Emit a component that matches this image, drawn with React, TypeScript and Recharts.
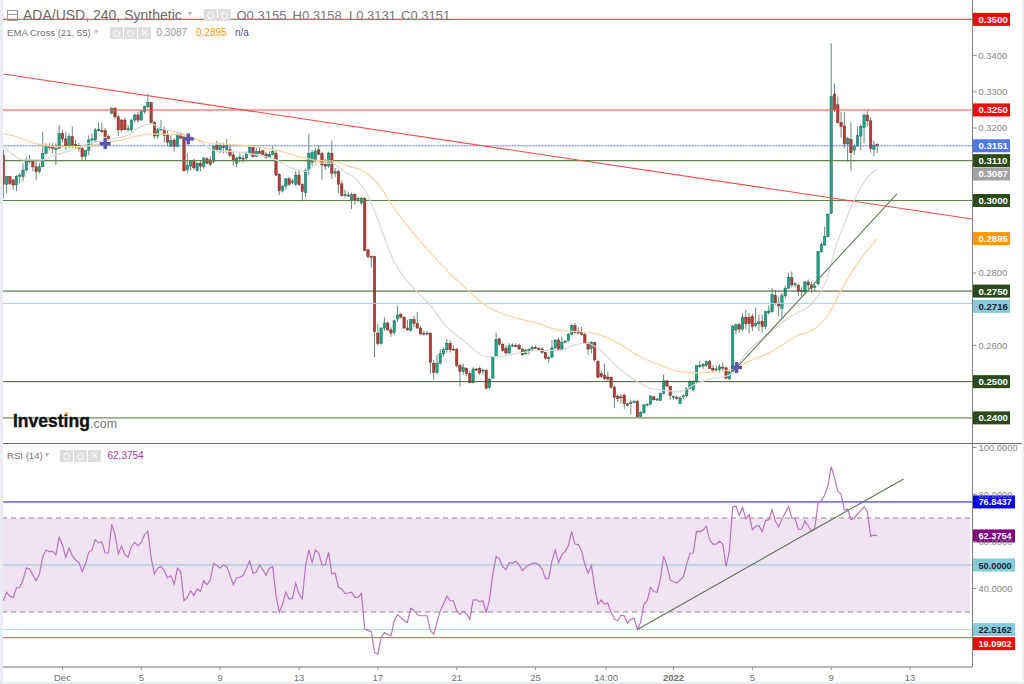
import React from "react";
import { ComposedChart, Bar, Line, XAxis, YAxis, ReferenceLine, ReferenceArea, ReferenceDot } from "recharts";

// [open, high, low, close]
const candlesEarlyDec = [
[.3126,.3140,.3006,.3045],[.3045,.3066,.3020,.3066],[.3066,.3066,.3043,.3047],[.3057,.3060,.3030,.3043],[.3043,.3070,.3025,.3066],
[.3066,.3075,.3047,.3070],[.3066,.3103,.3053,.3084],[.3084,.3121,.3080,.3112],[.3112,.3126,.3103,.3108],[.3108,.3112,.3080,.3093],
[.3093,.3112,.3057,.3080],[.3080,.3103,.3075,.3093],[.3093,.3190,.3093,.3130],[.3130,.3158,.3126,.3149],[.3149,.3158,.3139,.3146],
[.3149,.3158,.3130,.3144],[.3144,.3158,.3098,.3144],[.3144,.3208,.3144,.3185],[.3185,.3195,.3160,.3170],[.3170,.3190,.3139,.3149],
[.3149,.3185,.3144,.3176],[.3176,.3204,.3144,.3153],[.3155,.3167,.3144,.3149],[.3151,.3160,.3135,.3144],[.3144,.3150,.3112,.3121],
[.3122,.3139,.3112,.3139],[.3139,.3180,.3125,.3167],[.3167,.3185,.3149,.3170],[.3167,.3200,.3160,.3195],[.3193,.3215,.3190,.3197],
[.3193,.3215,.3185,.3190],[.3193,.3200,.3149,.3176],[.3176,.3182,.3165,.3170],[.3241,.3257,.3238,.3255],[.3255,.3257,.3225,.3231],
[.3231,.3235,.3178,.3195],[.3222,.3225,.3190,.3195],[.3222,.3230,.3195,.3195],[.3195,.3208,.3190,.3198],[.3195,.3225,.3190,.3222],
[.3222,.3240,.3215,.3236],[.3236,.3245,.3215,.3222],[.3222,.3250,.3220,.3245],[.3245,.3262,.3240,.3259],[.3259,.3295,.3255,.3270],
[.3270,.3270,.3213,.3215],[.3215,.3220,.3170,.3178],[.3178,.3200,.3170,.3195],[.3195,.3222,.3190,.3200],[.3195,.3205,.3160,.3180],
[.3180,.3195,.3150,.3160],[.3150,.3180,.3148,.3165],[.3167,.3172,.3135,.3149],[.3149,.3190,.3149,.3183],[.3183,.3190,.3170,.3172],
[.3176,.3180,.3080,.3082],[.3085,.3130,.3075,.3097],[.3095,.3110,.3082,.3107],[.3110,.3115,.3085,.3090],[.3083,.3105,.3080,.3103],
[.3103,.3110,.3080,.3095],[.3094,.3120,.3088,.3117],[.3115,.3120,.3100,.3103],[.3112,.3122,.3095,.3100],[.3108,.3152,.3103,.3150],
[.3153,.3165,.3135,.3140],[.3138,.3160,.3130,.3153],[.3150,.3160,.3130,.3146],[.3140,.3170,.3130,.3152],[.3140,.3155,.3120,.3125],
[.3126,.3135,.3095,.3112],[.3103,.3120,.3092,.3117],[.3115,.3130,.3105,.3120],[.3117,.3125,.3105,.3115],[.3117,.3135,.3110,.3130],
[.3130,.3150,.3125,.3147],[.3147,.3152,.3118,.3122],[.3122,.3145,.3120,.3135],[.3135,.3145,.3130,.3130],[.3137,.3141,.3125,.3127],
[.3128,.3135,.3115,.3118],[.3118,.3135,.3116,.3127],[.3127,.3150,.3125,.3135],[.3130,.3137,.3068,.3070],[.3072,.3075,.3015,.3027],
[.3027,.3042,.3022,.3040],[.3040,.3062,.3030,.3060],[.3060,.3065,.3040,.3045],[.3050,.3060,.3045,.3054],[.3045,.3080,.3040,.3070],
[.3070,.3085,.3040,.3044],[.3044,.3048,.2998,.3025],[.3022,.3088,.3010,.3082],[.3085,.3184,.3070,.3130],[.3105,.3140,.3095,.3132],
[.3112,.3145,.3105,.3137],[.3140,.3153,.3125,.3128],[.3130,.3135,.3057,.3098],[.3100,.3115,.3085,.3095],[.3095,.3135,.3090,.3131],
[.3130,.3165,.3060,.3075],[.3075,.3090,.3065,.3080],[.3080,.3085,.3020,.3045],
];
const candlesLateDec = [
[.3046,.3055,.3010,.3014],[.3014,.3030,.3008,.3017],[.3015,.3025,.3010,.3013],[.3002,.3022,.2976,.3016],[.3016,.3020,.2988,.3002],
[.3004,.3010,.2995,.3006],[.2993,.3010,.2988,.3006],[.3006,.3010,.2860,.2862],[.2864,.2866,.2840,.2845],[.2845,.2848,.2815,.2843],
[.2845,.2848,.2567,.2638],[.2634,.2660,.2600,.2605],[.2606,.2650,.2602,.2648],[.2648,.2678,.2640,.2662],[.2662,.2666,.2640,.2643],
[.2643,.2650,.2624,.2634],[.2636,.2672,.2630,.2668],[.2673,.2710,.2665,.2684],[.2686,.2690,.2675,.2678],[.2678,.2680,.2645,.2648],
[.2648,.2670,.2640,.2643],[.2642,.2672,.2638,.2672],[.2672,.2682,.2650,.2661],[.2661,.2693,.2645,.2648],[.2648,.2655,.2628,.2632],
[.2634,.2640,.2627,.2634],[.2634,.2640,.2628,.2632],[.2634,.2636,.2522,.2553],[.2551,.2560,.2505,.2525],[.2525,.2575,.2520,.2551],
[.2551,.2590,.2548,.2577],[.2577,.2595,.2570,.2588],[.2588,.2617,.2580,.2606],[.2606,.2615,.2580,.2588],[.2590,.2600,.2585,.2588],
[.2590,.2592,.2540,.2544],[.2544,.2550,.2486,.2528],[.2528,.2550,.2520,.2540],[.2537,.2540,.2515,.2522],[.2522,.2530,.2495,.2497],
[.2498,.2540,.2495,.2535],[.2535,.2538,.2530,.2532],[.2537,.2542,.2518,.2524],[.2530,.2536,.2520,.2532],[.2531,.2535,.2480,.2482],
[.2484,.2510,.2480,.2507],[.2510,.2570,.2508,.2568],[.2570,.2635,.2568,.2617],[.2618,.2620,.2600,.2603],[.2603,.2608,.2582,.2586],
[.2592,.2600,.2575,.2579],[.2579,.2606,.2578,.2599],[.2599,.2606,.2595,.2601],[.2600,.2606,.2595,.2598],[.2601,.2605,.2588,.2590],
[.2590,.2592,.2572,.2574],[.2577,.2590,.2574,.2586],[.2586,.2590,.2575,.2590],[.2590,.2600,.2585,.2595],[.2595,.2600,.2590,.2593],
[.2592,.2597,.2585,.2591],[.2590,.2595,.2577,.2581],[.2581,.2583,.2560,.2565],[.2565,.2570,.2552,.2566],[.2568,.2615,.2565,.2593],
[.2593,.2618,.2590,.2615],[.2615,.2622,.2585,.2590],[.2590,.2625,.2588,.2609],[.2610,.2615,.2605,.2612],[.2613,.2635,.2610,.2630],
[.2630,.2660,.2628,.2655],[.2655,.2662,.2632,.2636],[.2638,.2650,.2632,.2634],[.2636,.2652,.2628,.2630],[.2630,.2635,.2604,.2606],
[.2606,.2610,.2574,.2590],[.2592,.2612,.2578,.2608],[.2608,.2610,.2555,.2560],[.2556,.2560,.2510,.2512],[.2522,.2530,.2510,.2514],
[.2518,.2550,.2505,.2508],[.2513,.2528,.2503,.2507],[.2512,.2515,.2480,.2485],[.2485,.2490,.2427,.2457],[.2460,.2465,.2445,.2453],
[.2458,.2465,.2440,.2457],[.2463,.2467,.2425,.2439],[.2439,.2441,.2432,.2435],[.2440,.2450,.2410,.2442],[.2443,.2450,.2440,.2445],
[.2446,.2450,.2402,.2403],[.2404,.2420,.2401,.2415],[.2415,.2438,.2412,.2436],[.2436,.2440,.2432,.2438],[.2438,.2462,.2435,.2461],
[.2458,.2462,.2448,.2450],[.2450,.2455,.2447,.2452],[.2448,.2470,.2446,.2468],[.2468,.2520,.2465,.2502],[.2502,.2505,.2485,.2488],
[.2487,.2490,.2450,.2462],[.2458,.2462,.2450,.2459],[.2457,.2462,.2450,.2454],
];
const candlesJan = [
[.2440,.2460,.2438,.2455],[.2458,.2465,.2452,.2461],[.2461,.2485,.2455,.2482],[.2482,.2505,.2478,.2499],[.2478,.2505,.2473,.2500],
[.2500,.2546,.2497,.2544],[.2542,.2558,.2538,.2545],[.2543,.2552,.2535,.2548],[.2545,.2558,.2540,.2555],[.2555,.2560,.2535,.2537],
[.2537,.2545,.2525,.2532],[.2533,.2545,.2528,.2535],[.2533,.2548,.2525,.2541],[.2540,.2553,.2530,.2538],[.2538,.2542,.2505,.2510],
[.2508,.2530,.2505,.2527],[.2527,.2656,.2525,.2653],[.2643,.2660,.2630,.2657],[.2657,.2662,.2635,.2645],[.2645,.2690,.2640,.2678],
[.2678,.2698,.2645,.2660],[.2678,.2690,.2633,.2660],[.2680,.2688,.2640,.2652],[.2655,.2705,.2650,.2660],[.2660,.2685,.2640,.2665],
[.2667,.2685,.2635,.2652],[.2652,.2695,.2645,.2693],[.2690,.2710,.2685,.2695],[.2693,.2758,.2690,.2740],[.2738,.2752,.2712,.2715],
[.2715,.2735,.2680,.2709],[.2702,.2745,.2675,.2737],[.2737,.2765,.2730,.2758],[.2758,.2800,.2755,.2788],[.2787,.2804,.2760,.2767],
[.2767,.2775,.2760,.2770],[.2766,.2770,.2736,.2750],[.2750,.2760,.2735,.2752],[.2748,.2778,.2740,.2775],[.2775,.2782,.2755,.2767],
[.2767,.2775,.2745,.2758],[.2760,.2770,.2750,.2764],[.2770,.2860,.2765,.2859],[.2859,.2885,.2855,.2879],[.2877,.2928,.2875,.2900],
[.2900,.2965,.2898,.2962],[.2965,.3434,.2962,.3288],[.3294,.3323,.3245,.3250],[.3264,.3287,.3213,.3215],[.3215,.3245,.3174,.3204],
[.3206,.3245,.3144,.3156],[.3156,.3175,.3107,.3172],[.3169,.3216,.3081,.3132],[.3139,.3155,.3126,.3150],[.3150,.3204,.3148,.3179],
[.3178,.3210,.3139,.3204],[.3202,.3240,.3158,.3236],[.3236,.3248,.3206,.3220],[.3220,.3230,.3132,.3144],[.3141,.3165,.3123,.3153],
[.3155,.3158,.3131,.3151],
];

// [bar index, value] pairs
const ema21Points = [
[0,.3149],[3,.3126],[6,.3112],[12,.3112],[16,.3126],[21,.3139],[26,.3158],[31,.3167],[38,.3181],[42,.3204],[45,.3211],[48,.3199],[52,.3190],[56,.3181],[60,.3162],[64,.3139],[70,.3135],[76,.3128],[83,.3112],[88,.3089],[92,.3080],[96,.3103],[100,.3103],[104,.3079],
[107.6,.3057],[110.6,.3020],[113.6,.2956],[118.7,.2836],[125.8,.2749],[129.9,.2712],[134,.2661],[141,.2606],[147,.2569],[150,.2569],[157,.2579],[163,.2586],[169.5,.2586],[173.5,.2601],[177.6,.2606],[181.6,.2588],[186.7,.2542],[193,.2500],[198,.2479],[206,.2473],
[211,.2495],[216,.2509],[221,.2518],[226,.2578],[233,.2633],[239.5,.2679],[246.6,.2721],[250.6,.2781],[253.7,.2882],[255.7,.2928],[257.7,.2974],[262.8,.3061],[266,.3087],
];
const ema55Points = [
[0,.3185],[4,.3176],[8,.3162],[12,.3153],[16,.3149],[24,.3149],[28,.3154],[31,.3160],[36,.3167],[40,.3176],[44,.3183],[52,.3183],[56,.3176],[60,.3165],[64,.3157],[68,.3156],[72,.3153],[76,.3149],[80,.3144],[84,.3137],[88,.3126],[92,.3117],[96,.3110],[100,.3109],[105,.3095],[110,.3079],[113,.3057],
[120,.2965],[130.5,.2850],[142,.2747],[147,.2709],[153,.2684],[163.4,.2659],[168.6,.2643],[179.5,.2634],[187,.2607],[194,.2568],[199,.2549],[206,.2527],[211,.2524],[216,.2527],[222,.2535],[226.4,.2554],[233,.2579],[241.6,.2626],[247.7,.2651],[251,.2684],[254.7,.2747],[258.6,.2808],[266,.2895],
];

const rsiDec = [
34.8,38.4,36.7,36.2,40.2,40.5,43.6,48.7,48.3,45.7,43.3,46.2,53.5,56.4,55.7,55.8,54.4,61.8,58.5,53.3,
57.2,54,52.1,51.1,47.2,50.4,55.4,56.4,60.8,59.4,59.9,55.1,55.1,67.4,62.8,54.7,58.1,54.4,53.3,57.9,
59.6,58.1,59.6,62.9,64.3,53,46.2,48.6,49.4,47.6,44.5,45.5,41.9,48.6,47.2,34.8,36.2,39.1,37,39.8,
38.8,43.3,41.6,43.6,50.7,49.7,48.7,50,49.3,45.7,41.6,44.5,44.8,45.5,48.6,51.8,46.5,46.9,50,47.9,
45.7,48.6,49.4,37,29.9,33.4,38.4,35.5,35.8,42.2,37.7,35.5,49.7,56.4,51.1,56.4,55.1,50,50,55.4,46.2,46.6,40.5,
];
const rsiLateDec = [
39.8,37.9,38.1,38.4,36.2,36.2,37.9,22.8,22.1,21.6,12.8,12.1,19.2,21.3,20.4,19.9,26.3,28.9,27.7,26.3,
25.6,31.6,30.6,28.9,28.4,28.4,28.4,22.1,20.6,25.6,30.6,33.4,36.8,34.8,34.8,30.6,28.9,30.3,29.1,27,
35.1,35.2,34.4,34.8,29.6,35.5,46.2,53.7,52.6,49.3,48,51.1,50.7,51.6,50.1,47.6,49,50.1,50.7,50.9,
50,48.3,44.2,44.2,51.8,56.4,50.9,54.4,55.7,58.2,64.3,58.9,58.7,56.1,50.4,46.5,49.7,40.5,33.4,35.1,
33.4,33.8,29.9,27,26.3,28.7,28.4,25.3,27,27.4,22.6,25.6,33.4,34.8,40.5,38.7,38.4,44,53.8,49.7,43.6,42.9,42.3,
];
const rsiJan = [
43.6,45,50.4,55,55.1,64.3,64.2,64.9,66.5,60.6,58.9,58.9,60.1,58.9,49.3,56.1,74.8,75,71,74.5,
69.6,71.4,65,66.5,66.7,64.2,68.9,69.3,73.5,68.6,66.3,69.6,72.1,74.8,70,69.9,65.2,65.3,68.6,66.7,
64.3,65.7,76.4,77.4,79.8,83.8,91.8,87.3,81.3,80.2,73.4,73.8,69.3,69.9,71.7,73.1,74.8,72.8,62.2,62.8,62.3754,
];

const dateTickBars = [18, 42, 66, 90, 114, 138, 162, 183.5, 204, 228, 252, 276];
const dateTickLabels = ["Dec", "5", "9", "13", "17", "21", "25", "14:00", "2022", "5", "9", "13"];
const priceTicks = [0.34, 0.33, 0.32, 0.28, 0.26];
const rsiTicks = [100, 80, 60, 40];

const ohlc = [...candlesEarlyDec, ...candlesLateDec, ...candlesJan];
const candleRows = ohlc.map(([o, h, l, c], i) => ({ i, o, h, l, c, range: [l, h] }));
const rsiValues = [...rsiDec, ...rsiLateDec, ...rsiJan];
const rsiRows = rsiValues.map((v, i) => ({ i, v }));
const ema21Rows = ema21Points.map(([i, v]) => ({ i, v }));
const ema55Rows = ema55Points.map(([i, v]) => ({ i, v }));

const FONT = '"Liberation Sans", Arial, sans-serif';
const X_DOMAIN: [number, number] = [-0.4, 295];

const Candle = (p: any) => {
  const { x, y, width, height, payload: d } = p;
  const h = Math.abs(height);
  const k = h / (d.h - d.l || 1);
  const cx = x + width / 2;
  const yo = y + (d.h - d.o) * k;
  const yc = y + (d.h - d.c) * k;
  const up = d.c >= d.o;
  const top = Math.min(yo, yc);
  const bh = Math.max(Math.abs(yo - yc), 1);
  return (
    <g>
      <line x1={cx} x2={cx} y1={y} y2={y + h} stroke="#668a72" strokeWidth={1} />
      <rect x={cx - 1.2} y={top} width={2.4} height={bh}
        fill={up ? "#14a892" : "#b93a30"} stroke={up ? "#2a6048" : "#70302a"} strokeWidth={0.5} />
    </g>
  );
};

const tag = (text: string, bg: string, fg: string, w: number, size: number, dy = 0) => (p: any) => {
  const vb = p.viewBox || {};
  const x0 = (vb.x || 0) + (vb.width || 0);
  const y0 = (vb.y || 0) + dy;
  return (
    <g>
      <rect x={x0} y={y0 - 6.5} width={w} height={13} fill={bg} />
      <text x={x0 + 6} y={y0 + 3.5} fontSize={size} fontWeight="bold" fontFamily={FONT} fill={fg}>{text}</text>
    </g>
  );
};

const Plus = (p: any) => (
  <g fill="#5a55aa">
    <rect x={p.cx - 5.5} y={p.cy - 1.7} width={11} height={3.4} />
    <rect x={p.cx - 1.7} y={p.cy - 5.5} width={3.4} height={11} />
  </g>
);

const DateTick = (p: any) => {
  const { x, y, payload } = p;
  const label = dateTickLabels[dateTickBars.indexOf(payload.value)];
  return (
    <text x={x} y={y + 9} textAnchor="middle" fontSize={9.5} fontFamily={FONT}
      fontWeight={label === "2022" ? "bold" : "normal"} fill="#707070">{label}</text>
  );
};

const IconBox = ({ x, y, kind }: { x: number; y: number; kind: string }) => (
  <div style={{ position: "absolute", left: x, top: y, width: 13, height: 12, background: "#dedede", textAlign: "center", color: "#fff" }}>
    {kind === "x" ? (
      <span style={{ fontSize: 13, lineHeight: "12px", fontFamily: FONT, display: "block" }}>×</span>
    ) : (
      <div style={{ position: "absolute", left: 3, top: 2.5, width: 5, height: 5, border: "1.2px solid #fff", borderRadius: "50%" }} />
    )}
  </div>
);

const T = ({ x, y, size, color, children, weight, stroke }: any) => (
  <div style={{ position: "absolute", left: x, top: y, fontSize: size, color, fontFamily: FONT, fontWeight: weight || "normal", whiteSpace: "nowrap", lineHeight: 1, WebkitTextStroke: stroke }}>{children}</div>
);

export default function App() {
  return (
    <div style={{ position: "absolute", left: 0, top: 0, width: 1024, height: 684, overflow: "hidden", background: "#fff" }}>
      <div style={{ position: "absolute", left: 0, top: 0 }}>
        <ComposedChart width={1024} height={443} data={candleRows} margin={{ top: 0, right: 0, bottom: 0, left: 2 }}>
          <XAxis dataKey="i" type="number" domain={X_DOMAIN} allowDataOverflow hide />
          <YAxis orientation="right" width={51.5} domain={[0.23307, 0.35534]} allowDataOverflow ticks={priceTicks} interval={0}
            tickFormatter={(v: number) => v.toFixed(4)} tick={{ fontSize: 9.4, fill: "#858585", fontFamily: FONT }}
            tickSize={4} tickMargin={2} axisLine={{ stroke: "#808080" }} tickLine={{ stroke: "#909090" }} />
          <ReferenceLine y={0.35} stroke="#ff5a5a" strokeWidth={1.2} label={tag("0.3500", "#ff0000", "#fff", 37.5, 9.6)} />
          <ReferenceLine y={0.325} stroke="#ff4646" strokeWidth={1.1} label={tag("0.3250", "#ff0000", "#fff", 37.5, 9.6)} />
          <ReferenceLine y={0.3151} stroke="#4a6ee6" strokeDasharray="2 1" strokeWidth={1} label={tag("0.3151", "#5177e6", "#fff", 37.5, 9.6)} />
          <ReferenceLine y={0.311} stroke="#62834a" strokeWidth={1.2} label={tag("0.3110", "#2c4a14", "#fff", 37.5, 9.6)} />
          <ReferenceLine y={0.3087} stroke="none" label={tag("0.3087", "#a3a3a3", "#fff", 37.5, 9.6, 5)} />
          <ReferenceLine y={0.3} stroke="#5e8048" strokeWidth={1.1} label={tag("0.3000", "#2c4a14", "#fff", 37.5, 9.6)} />
          <ReferenceLine y={0.2895} stroke="none" label={tag("0.2895", "#ff9900", "#fff", 37.5, 9.6)} />
          <ReferenceLine y={0.275} stroke="#3f5a28" strokeWidth={1} label={tag("0.2750", "#2c4a14", "#fff", 37.5, 9.6)} />
          <ReferenceLine y={0.2716} stroke="#9fd6de" strokeWidth={1} label={tag("0.2716", "#84ccdc", "#223", 37.5, 9.6, 3)} />
          <ReferenceLine y={0.25} stroke="#3f5a28" strokeWidth={1} label={tag("0.2500", "#2c4a14", "#fff", 37.5, 9.6)} />
          <ReferenceLine y={0.24} stroke="#9cae88" strokeWidth={1.8} label={tag("0.2400", "#2c4a14", "#fff", 37.5, 9.6)} />
          <ReferenceLine segment={[{ x: 0, y: 0.3349 }, { x: 294.9, y: 0.2949 }]} stroke="#ff4a4a" strokeWidth={1.1} />
          <Line data={ema21Rows} dataKey="v" type="monotone" stroke="#d8d8d8" strokeWidth={1.2} dot={false} isAnimationActive={false} />
          <Line data={ema55Rows} dataKey="v" type="monotone" stroke="#ffd29c" strokeWidth={1.2} dot={false} isAnimationActive={false} />
          <Bar dataKey="range" barSize={3} shape={Candle} isAnimationActive={false} />
          <ReferenceLine segment={[{ x: 222, y: 0.2527 }, { x: 272, y: 0.3018 }]} stroke="#5f7f50" strokeWidth={1.1} />
          <ReferenceDot x={31} y={0.3157} shape={Plus} />
          <ReferenceDot x={56.3} y={0.317} shape={Plus} />
          <ReferenceDot x={223.2} y={0.2539} shape={Plus} />
        </ComposedChart>
      </div>

      <div style={{ position: "absolute", left: 0, top: 443 }}>
        <ComposedChart width={1024} height={241} data={rsiRows} margin={{ top: 0.5, right: 0, bottom: 0, left: 2 }}>
          <XAxis dataKey="i" type="number" domain={X_DOMAIN} allowDataOverflow ticks={dateTickBars} interval={0}
            height={17} tick={DateTick} tickSize={3} axisLine={{ stroke: "#707070" }} tickLine={{ stroke: "#909090" }} />
          <YAxis orientation="right" width={51.5} domain={[6.6, 101.7]} allowDataOverflow ticks={rsiTicks} interval={0}
            tickFormatter={(v: number) => v.toFixed(4)} tick={{ fontSize: 9.4, fill: "#858585", fontFamily: FONT }}
            tickSize={4} tickMargin={2} axisLine={{ stroke: "#808080" }} tickLine={{ stroke: "#909090" }} />
          <ReferenceArea x1={-0.4} x2={294.3} y1={30} y2={70} fill="#f0e4f2" fillOpacity={1} stroke="none" />
          <ReferenceLine segment={[{ x: -0.4, y: 70 }, { x: 294.3, y: 70 }]} stroke="#8f8790" strokeDasharray="5 4" />
          <ReferenceLine segment={[{ x: -0.4, y: 30 }, { x: 294.3, y: 30 }]} stroke="#8f8790" strokeDasharray="5 4" />
          <ReferenceLine y={76.8437} stroke="#7676ff" strokeWidth={1.6} label={tag("76.8437", "#0000ff", "#fff", 42.5, 9.2)} />
          <ReferenceLine y={62.3754} stroke="none" label={tag("62.3754", "#800080", "#fff", 42.5, 9.2)} />
          <ReferenceLine y={50} stroke="#8cc4da" strokeWidth={1} label={tag("50.0000", "#84ccdc", "#223", 42.5, 9.2)} />
          <ReferenceLine y={22.5162} stroke="#a6dee6" strokeWidth={1} label={tag("22.5162", "#84ccdc", "#223", 42.5, 9.2)} />
          <ReferenceLine y={19.0902} stroke="#ff4a4a" strokeWidth={1} label={tag("19.0902", "#ff0000", "#fff", 42.5, 9.2, 6)} />
          <Line dataKey="v" type="linear" stroke="#bb72c0" strokeWidth={1.2} dot={false} isAnimationActive={false} />
          <ReferenceLine segment={[{ x: 193, y: 22.6 }, { x: 274, y: 86.6 }]} stroke="#5f7350" strokeWidth={1.1} />
        </ComposedChart>
      </div>

      <div style={{ position: "absolute", left: 2, top: 443, width: 1022, height: 1, background: "#707070" }} />
      <div style={{ position: "absolute", left: 0, top: 0, width: 2.5, height: 684, background: "#e9ecf2" }} />
      <div style={{ position: "absolute", left: 0, top: 682, width: 1024, height: 2, background: "#e9ecf2" }} />
      <div style={{ position: "absolute", left: 1022, top: 0, width: 2, height: 684, background: "#eef0f4" }} />

      <div style={{ position: "absolute", left: 7, top: 10, width: 9, height: 9, border: "1px solid #9a9a9a" }}>
        <div style={{ position: "absolute", left: 0, top: 3, width: 9, height: 1, background: "#9a9a9a" }} />
      </div>
      <T x={23} y={8} size={14} color="#6a6a6a">ADA/USD, 240, Synthetic</T>
      <T x={188} y={10} size={8} color="#b8b8b8">▾</T>
      <IconBox x={204} y={9} kind="eye" />
      <IconBox x={218} y={9} kind="gear" />
      <T x={236.5} y={9} size={13} color="#777">O0.3155</T>
      <T x={292.5} y={9} size={13} color="#777">H0.3158</T>
      <T x={349} y={9} size={13} color="#777">L0.3131</T>
      <T x={401} y={9} size={13} color="#777">C0.3151</T>

      <T x={7} y={28} size={9.6} color="#707070">EMA Cross (21, 55)</T>
      <T x={94} y={28} size={8} color="#b8b8b8">▾</T>
      <IconBox x={110} y={27} kind="eye" />
      <IconBox x={124} y={27} kind="gear" />
      <IconBox x={138} y={27} kind="x" />
      <T x={156.5} y={28} size={10} color="#9a9a9a">0.3087</T>
      <T x={196} y={28} size={10} color="#ff9900">0.2895</T>
      <T x={235} y={28} size={10} color="#4a4aa0">n/a</T>

      <T x={7} y={451} size={9.6} color="#707070">RSI (14)</T>
      <T x={45} y={451} size={8} color="#b8b8b8">▾</T>
      <IconBox x={60} y={450} kind="eye" />
      <IconBox x={74} y={450} kind="gear" />
      <IconBox x={88} y={450} kind="x" />
      <T x={107.5} y={451} size={10} color="#a040a0">62.3754</T>

      <T x={13} y={412.5} size={17.5} color="#111" weight="bold" stroke="0.35px #111">Investing</T>
      <T x={90} y={417.5} size={12.5} color="#777">.com</T>
      <div style={{ position: "absolute", left: 65, top: 412, width: 3, height: 3, borderRadius: "50%", background: "#f5a623" }} />
    </div>
  );
}
